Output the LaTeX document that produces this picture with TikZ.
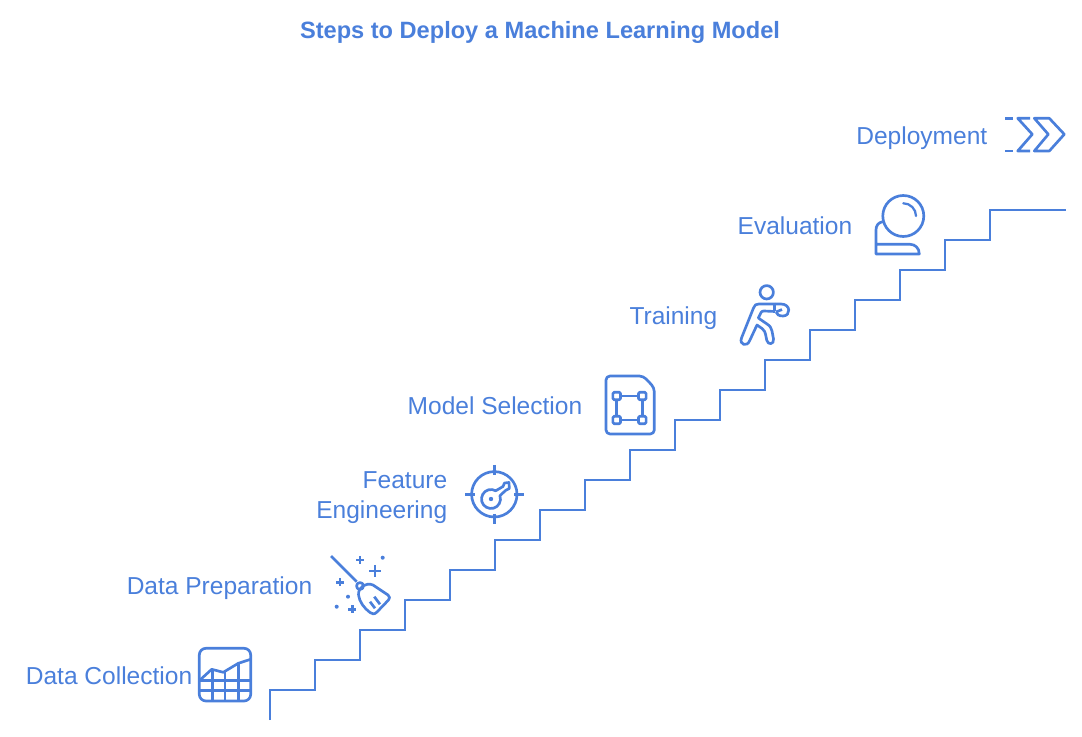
\documentclass[tikz,border=0pt]{standalone}
\usepackage{fontspec}
\usepackage{tikz}
\setmainfont{Liberation Sans}
\definecolor{stepblue}{HTML}{4A7FDB}
\tikzset{
	stair/.style={draw=stepblue,line width=2.1pt},
	icon/.style={draw=stepblue,line width=2pt,line join=round},
	thin icon/.style={draw=stepblue,line width=1.7pt,line cap=round},
	label/.style={text=stepblue,anchor=base east,inner sep=0pt,align=right,font=\fontsize{18.4}{22.5}\selectfont},
}
\begin{document}
\begin{tikzpicture}[x=0.75pt,y=-0.75pt]
		\useasboundingbox (0,0) rectangle (1082,737);
		\coordinate (S) at (270,720);
		\coordinate (Key) at (491,499);
		\coordinate (Target) at (494.3,494.3);
		\coordinate (Lens) at (903.3,216);
		\coordinate (Head) at (766.7,292.3);
		\node (title) at (540,32) [text=stepblue,inner sep=0pt,font=\fontsize{17.7}{22}\selectfont\bfseries] {Steps to Deploy a Machine Learning Model};
		\node (collection) at (192.5,684.5) [label] {Data Collection};
		\node (preparation) at (312.5,594.5) [label] {Data Preparation};
		\node (feature) at (447.5,498) [label,anchor=east] {Feature\\Engineering};
		\node (selection) at (582.5,414.5) [label] {Model Selection};
		\node (training) at (717.5,324.5) [label] {Training};
		\node (evaluation) at (852.5,234.5) [label] {Evaluation};
		\node (deployment) at (987.5,144.5) [label] {Deployment};
		% stairs
		\draw[stair] (S)--(270,690)--(315,690)--(315,660)--(360,660)--(360,630)--(405,630)--(405,600)--(450,600)--(450,570)--(495,570)--(495,540)--(540,540)--(540,510)--(585,510)--(585,480)--(630,480)--(630,450)--(675,450)--(675,420)--(720,420)--(720,390)--(765,390)--(765,360)--(810,360)--(810,330)--(855,330)--(855,300)--(900,300)--(900,270)--(945,270)--(945,240)--(990,240)--(990,210)--(1066,210);
		% data collection
		\draw[icon,rounded corners=5] (199.3,648.3) rectangle (250.7,701);
		\draw[icon] (200,680)--(211.7,669.3)--(223.3,672.3)--(238.3,663.3)--(250.7,659.3);
		\draw[icon] (200,680.7)--(250.7,680.7);
		\draw[icon] (199.3,690.7)--(250.7,690.7);
		\draw[icon] (212.3,669.5)--(212.3,701);
		\draw[icon] (225,671.5)--(225,701);
		\draw[icon] (238.3,663.3)--(238.3,701);
		% data preparation
		\draw[icon] (331,556)--(356.7,581.7);
		\draw[icon] (360,586) circle (3.5);
		\draw[icon] (358.5,595) .. controls (358,587) and (366,582) .. (373,585)--(388,595) .. controls (390,596.5) and (390,598.5) .. (388.5,600)--(377,612) .. controls (374.5,614.5) and (372,614.5) .. (370,612.5) .. controls (364,608) and (359.5,602) .. (358.5,595);
		\draw[icon] (370,601.7)--(375,608.3);
		\draw[icon] (374.3,596.7)--(380,604.3);
		\foreach \x/\y/\r in {360/560/4,375/571/6,340/582.3/4,352.3/609.3/4} {
			\draw[icon] (\x-\r,\y)--(\x+\r,\y);
			\draw[icon] (\x,\y-\r)--(\x,\y+\r);
		}
		\foreach \x/\y in {382.7/557.7,348/596.7,336.7/606.7} {
			\fill[stepblue] (\x,\y) circle (2);
		}
		% feature engineering
		\draw[icon] (Target) circle (22.7);
		\draw[icon] (494.3,465)--(494.3,475);
		\draw[icon] (494.3,514)--(494.3,524);
		\draw[icon] (465,494.3)--(475,494.3);
		\draw[icon] (514,494.3)--(524,494.3);
		\draw[icon] ([shift=(-60:9.5)]Key) arc(-60:-380:9.5)--(505.5,490.5)--(509.3,488.5)--(509,482.5)--(504.5,483)--(503,486.5)--cycle;
		\fill[stepblue] (Key) circle (2.2);
		% model selection
		\draw[icon,rounded corners=3] (606,376)--(643.3,376)--(654.3,387.7)--(654.3,434)--(606,434)--cycle;
		\draw[icon] (616.7,396)--(642.3,396)--(642.3,420)--(616.7,420)--cycle;
		\foreach \x/\y in {616.7/396,642.3/396,616.7/420,642.3/420} {
			\draw[icon,fill=white,rounded corners=1] (\x-3.8,\y-3.8) rectangle (\x+3.8,\y+3.8);
		}
		% training
		\draw[icon] (Head) circle (6.7);
		\draw[icon] (775,304)--(759,304) .. controls (756,304) and (754.5,305) .. (753.5,308)--(741.5,338) .. controls (739,345) and (747,347) .. (749.5,341)--(757,325)--(762,328.5) .. controls (764.5,330.5) and (765,332) .. (765.5,334)--(766.7,340) .. controls (767.5,345.5) and (774.5,344.5) .. (773.5,339)--(772,331) .. controls (771.5,328) and (770,326) .. (767,324)--(758.3,318)--(761,312.5) .. controls (761.5,311.5) and (762.5,311) .. (764,311)--(775,311.5);
		\draw[icon] (774.5,304)--(774.5,311.5);
		\draw[icon] (775,304)--(781,304) .. controls (791,304) and (791,316) .. (783,316) .. controls (779,316) and (776.5,314.5) .. (776,312);
		\draw[icon] (776,312)--(782,309.5);
		% evaluation
		\draw[icon] (Lens) circle (20.5);
		\draw[thin icon] ([shift=(-90:12.7)]Lens) arc(-90:0:12.7);
		\draw[icon] (882.7,221.7) .. controls (878,222.5) and (876,226) .. (876,230)--(876,254)--(919.3,254) .. controls (919.3,248) and (915,244.3) .. (910,244.3)--(876,244.3);
		% deployment
		\draw[icon] (1005,118.3)--(1013.3,118.3);
		\draw[icon] (1005,151)--(1013.3,151);
		\draw[icon] (1030,118.3)--(1017.7,118.3)--(1032.3,134.3)--(1017.7,151)--(1030,151);
		\draw[icon] (1034.3,118.3)--(1049.3,118.3)--(1064.3,134.3)--(1049.3,151)--(1034.3,151)--(1048.3,134.3)--cycle;
	\end{tikzpicture}
\end{document}
